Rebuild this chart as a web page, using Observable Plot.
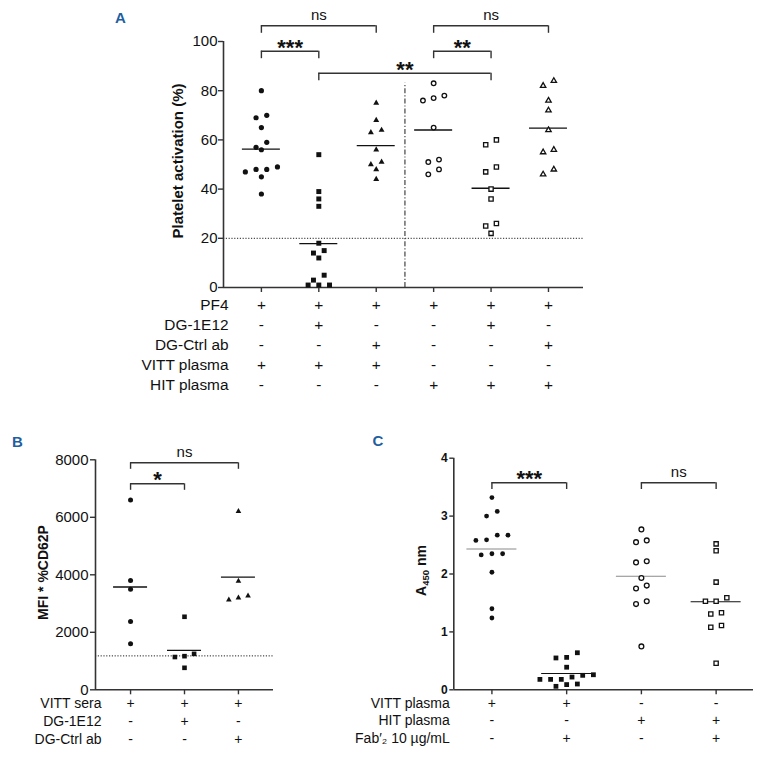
<!DOCTYPE html>
<html><head><meta charset="utf-8">
<script src="https://cdn.jsdelivr.net/npm/d3@7"></script>
<script src="https://cdn.jsdelivr.net/npm/@observablehq/plot@0.6"></script>
<style>
html,body{margin:0;padding:0;background:#fff}
#root{position:relative;width:759px;height:759px;overflow:hidden;background:#fff}
#root > svg{position:absolute}
</style></head><body><div id="root"></div>
<script>
// ---------- Panel A data ----------
const groupsA = ["VITT", "VITT+DG-1E12", "VITT+DG-Ctrl", "HIT", "HIT+DG-1E12", "HIT+DG-Ctrl"];
const valuesA0 = [80,70,69,65,59,57,56,49,48,48,47,45,38];
const valuesA1 = [54,39,36,33,18,15,14,12,5,3,1,1,1];
const valuesA2 = [75,68,64,63,56,51,50,48,44];
const valuesA3 = [83,78,77,76,65,52,51,48,46];
const valuesA4 = [60,58,49,47,40,36,26,25,22];
const valuesA5 = [84,82,76,72,64,56,55,48,46];
const ticksA = [0,20,40,60,80,100];
const cutoffA = 20;
const rowLabelsA = ["PF4","DG-1E12","DG-Ctrl ab","VITT plasma","HIT plasma"];
const rowSignsA = [
  ["+","+","+","+","+","+"],
  ["-","+","-","-","+","-"],
  ["-","-","+","-","-","+"],
  ["+","+","+","-","-","-"],
  ["-","-","-","+","+","+"]
];
const bracketsA = [
  {a:0,b:2,label:"ns",tier:0},
  {a:0,b:1,label:"***",tier:1},
  {a:1,b:4,label:"**",tier:2},
  {a:3,b:4,label:"**",tier:1},
  {a:3,b:5,label:"ns",tier:0}
];

// ---------- Panel B data ----------
const groupsB = ["VITT", "VITT+DG-1E12", "VITT+DG-Ctrl"];
const valuesB0 = [6600,3800,3500,2380,1600];
const valuesB1 = [2540,1250,1170,1140,765];
const valuesB2 = [6210,3780,3270,3200,3130];
const ticksB = [0,2000,4000,6000,8000];
const cutoffB = 1180;
const rowLabelsB = ["VITT sera","DG-1E12","DG-Ctrl ab"];
const rowSignsB = [["+","+","+"],["-","+","-"],["-","-","+"]];
const bracketsB = [{a:0,b:2,label:"ns",tier:0},{a:0,b:1,label:"*",tier:1}];

// ---------- Panel C data ----------
const groupsC = ["VITT", "VITT+Fab", "HIT", "HIT+Fab"];
const valuesC0 = [3.32,3.08,3.00,2.67,2.67,2.59,2.58,2.35,2.35,2.33,2.03,1.40,1.24];
const valuesC1 = [0.64,0.56,0.55,0.39,0.26,0.25,0.22,0.18,0.18,0.18,0.10,0.09,0.06];
const valuesC2 = [2.77,2.58,2.55,2.22,2.20,1.93,1.80,1.75,1.53,1.48,0.75];
const valuesC3 = [2.52,2.40,1.86,1.59,1.53,1.53,1.33,1.31,1.11,1.08,0.46];
const ticksC = [0,1,2,3,4];
const rowLabelsC = ["VITT plasma","HIT plasma","Fab\u2032\u2082 10 \u00b5g/mL"];
const rowSignsC = [["+","+","-","-"],["-","-","+","+"],["-","+","-","+"]];
const bracketsC = [{a:0,b:1,label:"***",tier:0},{a:2,b:3,label:"ns",tier:0}];

// ---------- rendering ----------
const FONT = '"Liberation Sans", Arial, Helvetica, sans-serif';
const INK = "#111";
const AX = "#333";

function dodge(values, pxPerUnit, pxPerCat, step, thresh) {
  const idx = d3.range(values.length).sort((a, b) => values[b] - values[a]);
  const rows = []; let cur = null;
  for (const i of idx) {
    if (cur && (values[cur[0]] - values[i]) * pxPerUnit < thresh) cur.push(i);
    else { cur = [i]; rows.push(cur); }
  }
  const off = new Array(values.length).fill(0);
  for (const row of rows) {
    row.sort((a, b) => values[a] - values[b]);
    row.forEach((i, k) => off[i] = (k - (row.length - 1) / 2) * step / pxPerCat);
  }
  return off;
}

function panel(c) {
  const pw = c.width - c.marginLeft - c.marginRight;
  const ph = c.height - c.marginTop - c.marginBottom;
  const pxCat = pw / (c.xDomain[1] - c.xDomain[0]);
  const pxUnit = ph / (c.yDomain[1] - c.yDomain[0]);
  const toVal = px => c.yDomain[1] - (px - c.marginTop) / pxUnit;
  const marks = [];
  if (c.cutoff != null) marks.push(Plot.ruleY([c.cutoff], {stroke: "#222", strokeWidth: 1, strokeDasharray: "1.2,1.6"}));
  if (c.separator) marks.push(Plot.ruleX([c.separator.x], {y1: c.yDomain[0], y2: c.separator.top, stroke: "#444", strokeWidth: 1.2, strokeDasharray: "5,2,1.2,2"}));
  marks.push(Plot.ruleX([c.xDomain[0]], {stroke: AX, strokeWidth: 1.6}));
  marks.push(Plot.ruleY([c.yDomain[0]], {stroke: AX, strokeWidth: 1.6}));
  marks.push(Plot.axisY({ticks: c.yTicks, tickFormat: d => String(d), tickSize: c.yTickSize, tickPadding: c.yTickPadding, label: null, stroke: AX, strokeWidth: 1.4, fontSize: c.yFontSize, fontWeight: c.yFontWeight}));
  marks.push(Plot.axisX({ticks: d3.range(c.series.length), tickSize: 5, tickFormat: () => "", label: null, stroke: AX, strokeWidth: 1.4}));
  // mean lines
  c.series.forEach((s, i) => {
    marks.push(Plot.ruleY([d3.mean(s.values)], {x1: i - c.meanHalf / pxCat, x2: i + c.meanHalf / pxCat, stroke: s.meanColor || INK, strokeWidth: s.meanWidth || 1.4}));
  });
  // points
  c.series.forEach((s, i) => {
    const off = dodge(s.values, pxUnit, pxCat, c.step, 5.5);
    const pts = s.values.map((v, k) => ({x: i + off[k], y: v}));
    marks.push(Plot.dot(pts, {x: "x", y: "y", symbol: s.symbol, r: s.r,
      fill: s.filled ? INK : "white", stroke: s.filled ? "none" : INK, strokeWidth: s.filled ? 0 : 1.3}));
  });
  // brackets
  const br = c.brackets.map(b => ({...b, lv: toVal(c.tierPx[b.tier]), lv2: toVal(c.tierPx[b.tier] + c.drop)}));
  marks.push(Plot.ruleY(br, {y: "lv", x1: "a", x2: "b", stroke: AX, strokeWidth: 1.4}));
  marks.push(Plot.ruleX(br, {x: "a", y1: "lv", y2: "lv2", stroke: AX, strokeWidth: 1.4}));
  marks.push(Plot.ruleX(br, {x: "b", y1: "lv", y2: "lv2", stroke: AX, strokeWidth: 1.4}));
  const stars = br.filter(b => b.label.startsWith("*"));
  const ns = br.filter(b => !b.label.startsWith("*"));
  marks.push(Plot.text(stars, {x: d => (d.a + d.b) / 2, y: "lv", text: "label", fontSize: 22, fontWeight: "bold", dy: -3.5, fill: INK}));
  marks.push(Plot.text(ns, {x: d => (d.a + d.b) / 2, y: "lv", text: "label", fontSize: 15, dy: -11, fill: INK}));
  // condition rows
  c.rowLabels.forEach((lab, ri) => {
    const dy = c.rowDy0 + ri * c.rowStep;
    marks.push(Plot.text([lab], {frameAnchor: "bottom-left", text: d => d, textAnchor: "end", dx: c.rowLabelDx, dy, fontSize: c.rowFont, fill: INK}));
    marks.push(Plot.text(c.rowSigns[ri], {x: (d, i) => i, frameAnchor: "bottom", text: d => d, dy, fontSize: c.rowFont, fill: INK}));
  });
  const svg = Plot.plot({
    width: c.width, height: c.height,
    marginLeft: c.marginLeft, marginRight: c.marginRight, marginTop: c.marginTop, marginBottom: c.marginBottom,
    x: {type: "linear", domain: c.xDomain},
    y: {type: "linear", domain: c.yDomain},
    style: {fontFamily: FONT, fontSize: "15px", color: INK, background: "transparent", overflow: "visible"},
    marks
  });
  svg.style.left = c.left + "px";
  svg.style.top = c.top + "px";
  const s = d3.select(svg);
  s.selectAll('g[aria-label="y-axis tick label"]').attr("font-size", c.yFontSize).attr("font-weight", c.yFontWeight);
  // y-axis title
  const t = s.append("text")
    .attr("transform", `translate(${c.yLabel.x},${c.yLabel.y}) rotate(-90)`)
    .attr("text-anchor", "middle").attr("font-weight", "bold").attr("font-size", c.yLabel.size)
    .attr("font-family", FONT).attr("fill", INK);
  c.yLabel.parts.forEach(p => {
    const ts = t.append("tspan").text(p.text);
    if (p.sub) ts.attr("font-size", c.yLabel.size * 0.68).attr("dy", "0.3em");
    if (p.after) ts.attr("dy", "-0.2em");
  });
  document.getElementById("root").appendChild(svg);
}

panel({
  left: 0, top: 0, width: 759, height: 400,
  marginLeft: 223, marginRight: 176, marginTop: 41, marginBottom: 113,
  xDomain: [-0.66, 5.61], yDomain: [0, 100], yTicks: ticksA,
  yTickSize: 5, yTickPadding: 1, yFontSize: 15, yFontWeight: "normal",
  cutoff: cutoffA, separator: {x: 2.5, top: 83},
  meanHalf: 19, step: 10.7,
  series: [
    {values: valuesA0, symbol: "circle", filled: true, r: 2.6},
    {values: valuesA1, symbol: "square", filled: true, r: 2.8},
    {values: valuesA2, symbol: "triangle", filled: true, r: 2.2},
    {values: valuesA3, symbol: "circle", filled: false, r: 2.3},
    {values: valuesA4, symbol: "square", filled: false, r: 2.4},
    {values: valuesA5, symbol: "triangle", filled: false, r: 2.0}
  ],
  brackets: bracketsA, tierPx: [25.3, 50.7, 72.7], drop: 7.5,
  rowLabels: rowLabelsA, rowSigns: rowSignsA, rowDy0: 22, rowStep: 20, rowFont: 15.4, rowLabelDx: 5,
  yLabel: {x: 182.5, y: 161, size: 15, parts: [{text: "Platelet activation (%)"}]}
});

panel({
  left: 0, top: 400, width: 330, height: 359,
  marginLeft: 95, marginRight: 57, marginTop: 59.3, marginBottom: 69.7,
  xDomain: [-0.65, 2.65], yDomain: [0, 8000], yTicks: ticksB,
  yTickSize: 5, yTickPadding: 2, yFontSize: 15, yFontWeight: "normal",
  cutoff: cutoffB,
  meanHalf: 17, step: 9.6,
  series: [
    {values: valuesB0, symbol: "circle", filled: true, r: 2.5},
    {values: valuesB1, symbol: "square", filled: true, r: 2.6},
    {values: valuesB2, symbol: "triangle", filled: true, r: 2.1}
  ],
  brackets: bracketsB, tierPx: [62.3, 83.3], drop: 6.5,
  rowLabels: rowLabelsB, rowSigns: rowSignsB, rowDy0: 18, rowStep: 18.2, rowFont: 14, rowLabelDx: 6,
  yLabel: {x: 47.5, y: 172.5, size: 14, parts: [{text: "MFI * %CD62P"}]}
});

panel({
  left: 330, top: 400, width: 429, height: 359,
  marginLeft: 123.3, marginRight: 6, marginTop: 57.7, marginBottom: 69.7,
  xDomain: [-0.51, 3.5], yDomain: [0, 4], yTicks: ticksC,
  yTickSize: 4, yTickPadding: 2, yFontSize: 12, yFontWeight: "bold",
  cutoff: null,
  meanHalf: 25, step: 10.7,
  series: [
    {values: valuesC0, symbol: "circle", filled: true, r: 2.4, meanColor: "#8a8a8a", meanWidth: 1.1},
    {values: valuesC1, symbol: "square", filled: true, r: 2.7, meanWidth: 1.1},
    {values: valuesC2, symbol: "circle", filled: false, r: 2.4, meanColor: "#8a8a8a", meanWidth: 1.1},
    {values: valuesC3, symbol: "square", filled: false, r: 2.4, meanWidth: 1.1}
  ],
  brackets: bracketsC, tierPx: [82.3], drop: 6.7,
  rowLabels: rowLabelsC, rowSigns: rowSignsC, rowDy0: 18, rowStep: 17.4, rowFont: 14, rowLabelDx: -4,
  yLabel: {x: 96, y: 170.5, size: 14, parts: [{text: "A"}, {text: "450", sub: true}, {text: " nm", after: true}]}
});

// panel letters
const letters = [{t: "A", x: 115, y: 23}, {t: "B", x: 12, y: 446.5}, {t: "C", x: 372.5, y: 446}];
const ov = d3.select("#root").append("svg").attr("width", 759).attr("height", 759)
  .style("left", "0px").style("top", "0px").style("pointer-events", "none");
ov.selectAll("text").data(letters).join("text")
  .attr("x", d => d.x).attr("y", d => d.y).text(d => d.t)
  .attr("font-family", FONT).attr("font-weight", "bold").attr("font-size", 15).attr("fill", "#1f5f9f");
</script>
</body></html>
